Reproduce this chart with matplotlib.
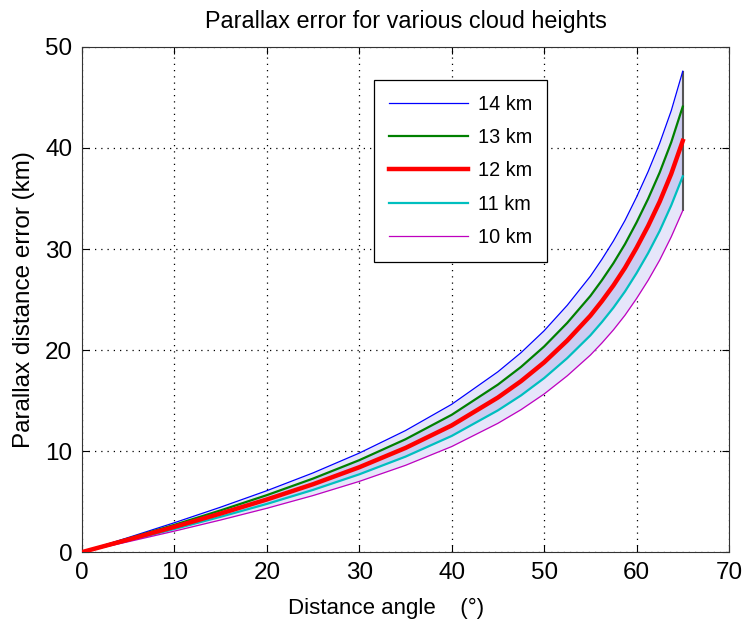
import numpy as np
import matplotlib.pyplot as plt

plt.rcParams['font.family'] = ['Liberation Sans', 'DejaVu Sans']

# distance angle (deg) and parallax error (km) for each cloud height
angle = [0, 5, 10, 15, 20, 25, 30, 35, 40, 45, 47.5, 50, 52.5, 55, 56.25, 57.5,
         58.75, 60, 61.25, 62.5, 63.75, 65]

err_14 = [0, 1.44, 2.91, 4.45, 6.08, 7.84, 9.80, 12.03, 14.63, 17.85, 19.74, 21.91, 24.43,
          27.30, 28.98, 30.80, 32.83, 35.14, 37.66, 40.46, 43.68, 47.6]
err_13 = [0, 1.34, 2.70, 4.13, 5.64, 7.28, 9.10, 11.17, 13.59, 16.58, 18.33, 20.35, 22.69,
          25.35, 26.91, 28.60, 30.49, 32.63, 34.97, 37.57, 40.56, 44.1]
err_12 = [0, 1.24, 2.50, 3.82, 5.21, 6.72, 8.40, 10.31, 12.54, 15.30, 16.92, 18.78, 20.94,
          23.40, 24.84, 26.40, 28.14, 30.12, 32.28, 34.68, 37.44, 40.7]
err_11 = [0, 1.13, 2.29, 3.50, 4.77, 6.16, 7.70, 9.45, 11.50, 14.03, 15.51, 17.22, 19.20,
          21.45, 22.77, 24.20, 25.80, 27.61, 29.59, 31.79, 34.32, 37.2]
err_10 = [0, 1.03, 2.08, 3.18, 4.34, 5.60, 7.00, 8.59, 10.45, 12.75, 14.10, 15.65, 17.45,
          19.50, 20.70, 22.00, 23.45, 25.10, 26.90, 28.90, 31.20, 33.8]

fig = plt.figure(figsize=(7.45, 6.26), dpi=100)
ax = fig.add_axes([0.110, 0.118, 0.8685, 0.807])

# shaded bands
ax.fill_between(angle, err_10, err_14, color=(0.90, 0.90, 0.98), lw=0, zorder=1)
ax.fill_between(angle, err_11, err_13, color=(0.80, 0.80, 0.95), lw=0, zorder=1)
ax.vlines(angle[-1], err_10[-1], err_14[-1], color='#555555', lw=1.5, zorder=2)

ax.plot(angle, err_14, color=(0, 0, 1), lw=0.9, label='14 km', zorder=3)
ax.plot(angle, err_13, color=(0, 0.5, 0), lw=1.6, label='13 km', zorder=3)
ax.plot(angle, err_12, color=(1, 0, 0), lw=3.2, label='12 km', zorder=4)
ax.plot(angle, err_11, color=(0, 0.75, 0.75), lw=1.6, label='11 km', zorder=3)
ax.plot(angle, err_10, color=(0.75, 0, 0.75), lw=0.9, label='10 km', zorder=3)

ax.set_xlim(0, 70)
ax.set_ylim(0, 50)
ax.set_xticks(range(0, 71, 10))
ax.set_yticks(range(0, 51, 10))

ax.grid(True, color='black', linestyle=(0, (1, 4)), lw=0.9)
ax.set_axisbelow(True)
ax.tick_params(direction='in', top=True, right=True, labelsize=17.5, length=5, pad=7)
for s in ax.spines.values():
    s.set_color('#333333')

ax.set_title('Parallax error for various cloud heights', fontsize=16.8, pad=14)
ax.set_xlabel('Distance angle    (°)', fontsize=16, x=0.47, labelpad=10)
ax.set_ylabel('Parallax distance error (km)', fontsize=17.5, labelpad=7)

leg = ax.legend(loc='upper left', bbox_to_anchor=(0.451, 0.935), fontsize=14.3,
                handlelength=4.0, labelspacing=0.72, borderpad=0.75,
                handletextpad=0.5, fancybox=False, framealpha=1,
                edgecolor='black', borderaxespad=0)
leg.get_frame().set_linewidth(0.9)

plt.savefig('out.png', dpi=100)
